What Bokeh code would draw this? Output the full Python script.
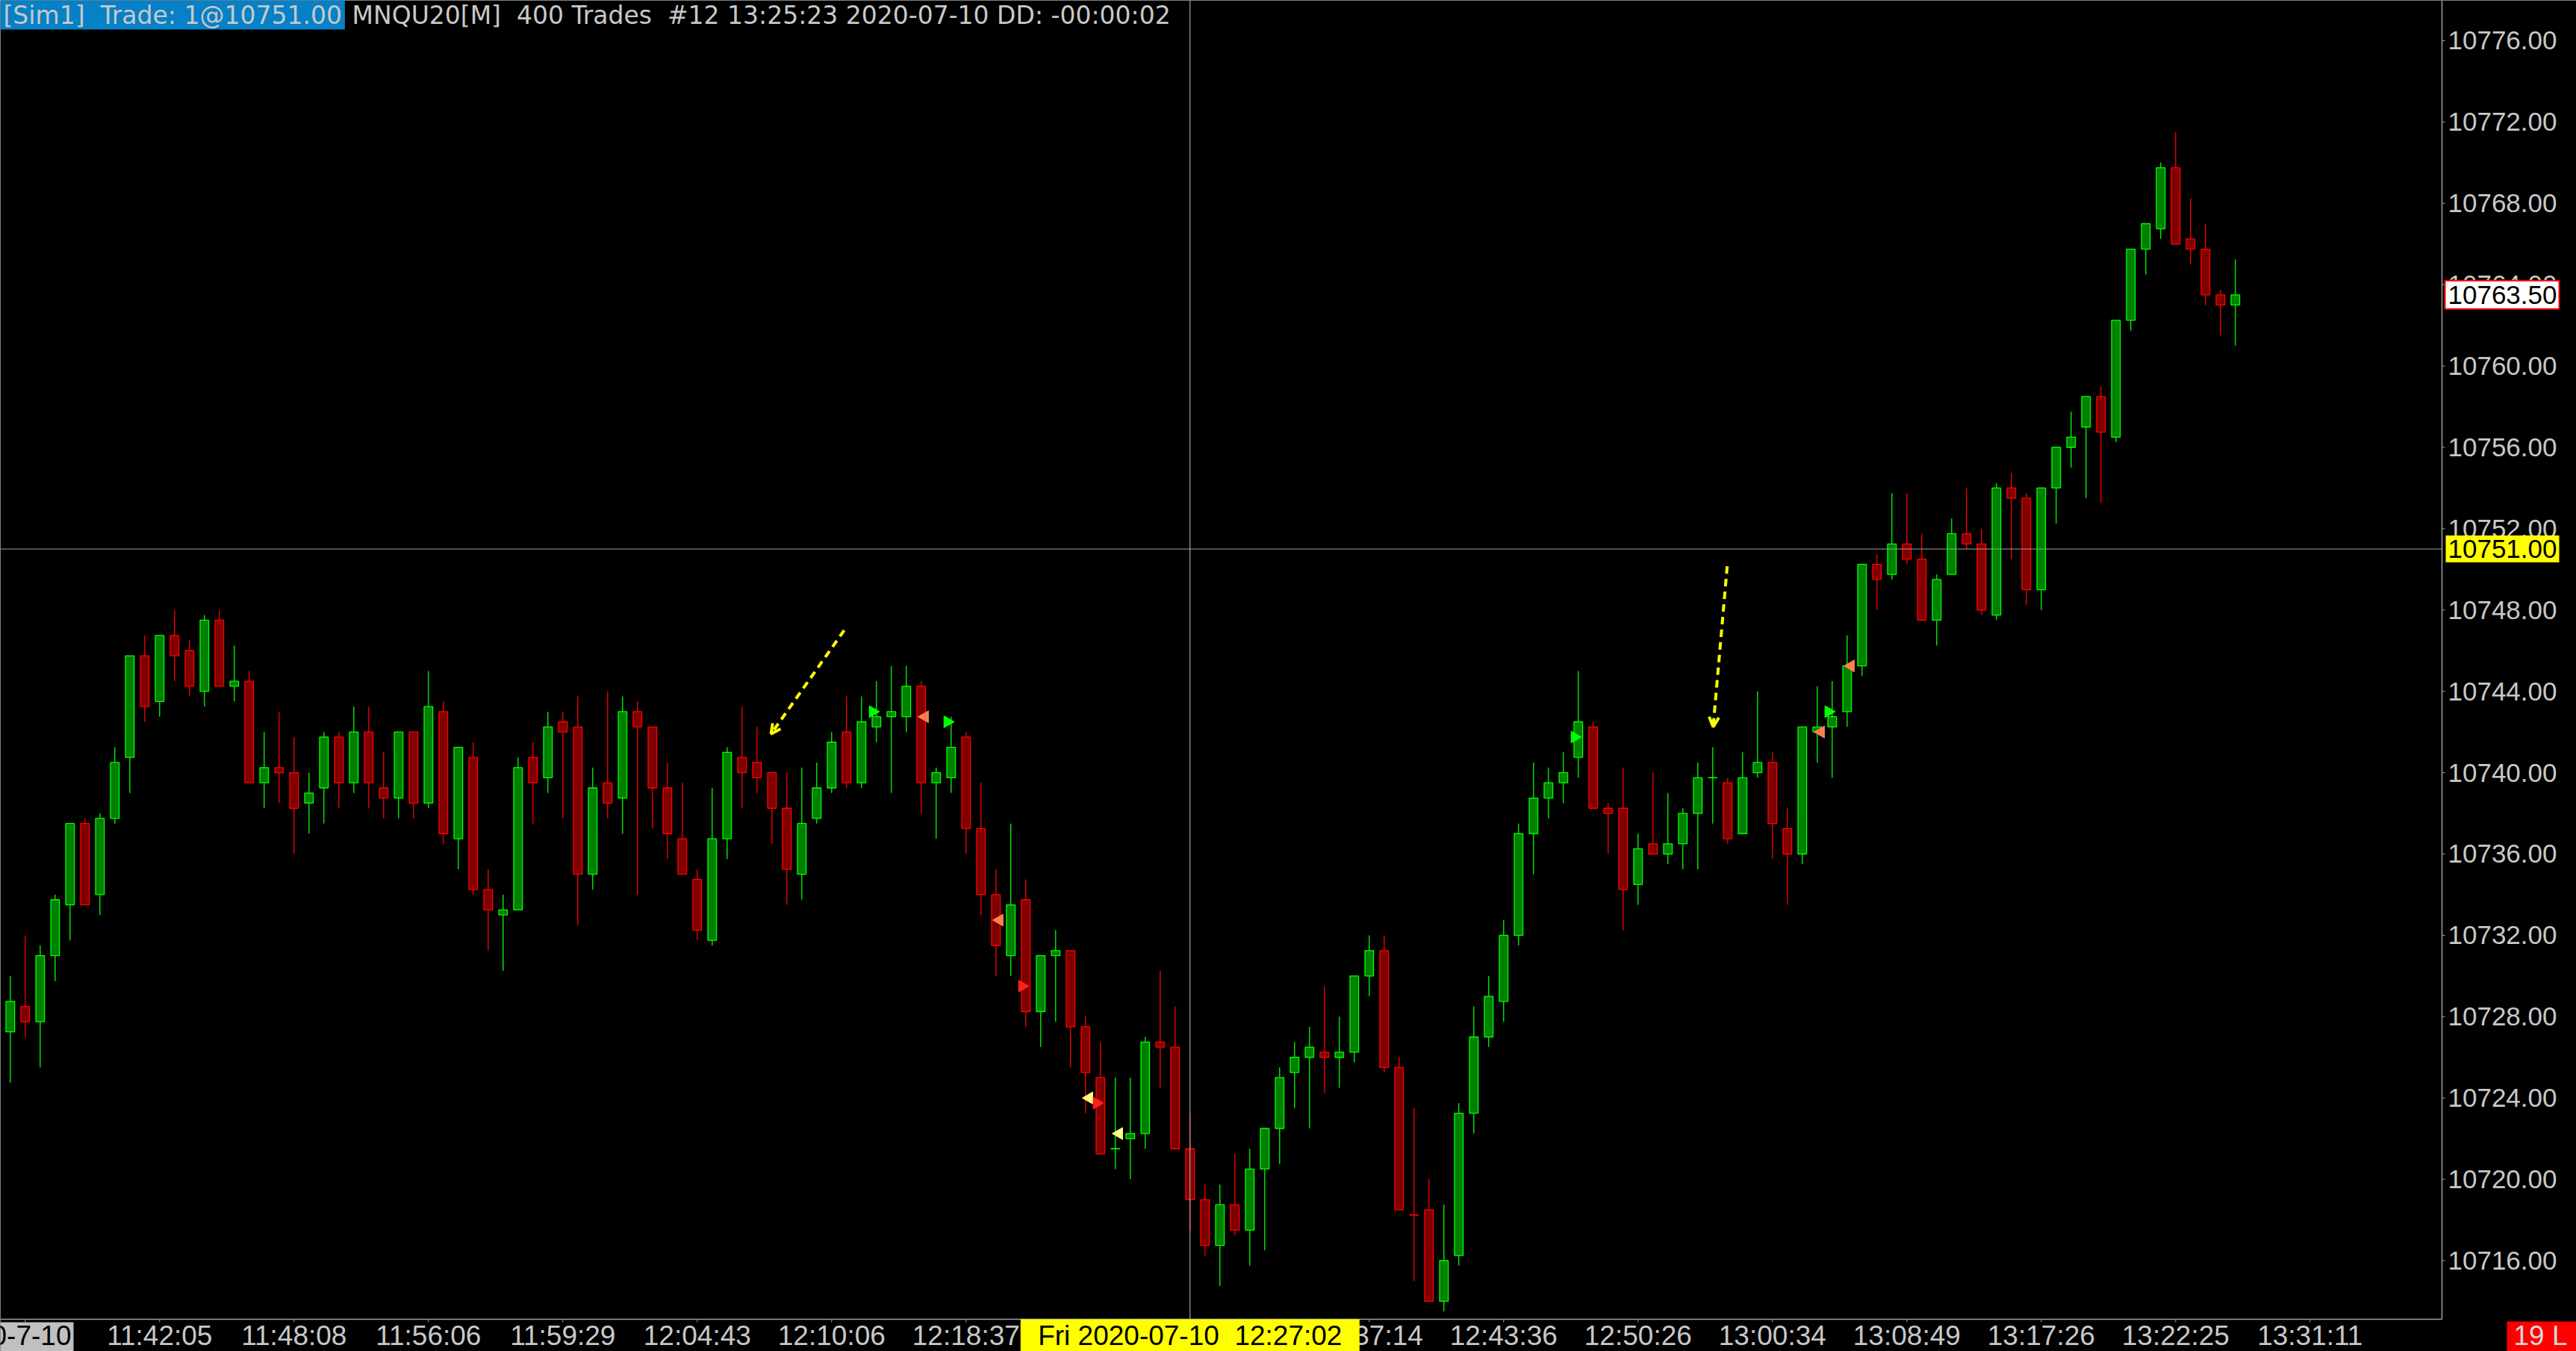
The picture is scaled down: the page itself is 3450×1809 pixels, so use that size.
from bokeh.plotting import figure
from bokeh.models import ColumnDataSource, Label, Arrow, OpenHead, Range1d
from bokeh.embed import file_html
from bokeh.resources import INLINE
from bokeh.core.properties import value

# ---------------- data (MNQU20, 400-trade bars, 2020-07-10) ----------------
opens = [10727.25, 10728.5, 10727.75, 10731, 10733.5, 10737.5, 10734, 10737.75, 10740.75, 10745.75,
         10743.5, 10746.75, 10746, 10744, 10747.5, 10744.25, 10744.5, 10739.5, 10740.25, 10740,
         10738.5, 10739.25, 10741.75, 10739.5, 10742, 10739.25, 10738.75, 10742, 10738.5, 10743,
         10736.75, 10740.75, 10734.25, 10733, 10733.25, 10740.75, 10739.75, 10742.5, 10742.25, 10735,
         10739.5, 10738.75, 10743, 10742.25, 10739.25, 10736.75, 10734.75, 10731.75, 10736.75, 10740.75,
         10740.5, 10740, 10738.25, 10735, 10737.75, 10739.25, 10742, 10739.5, 10742.25, 10742.75,
         10742.75, 10744.25, 10739.5, 10739.75, 10741.75, 10737.25, 10734, 10731, 10733.75, 10728.25,
         10731, 10731.25, 10727.5, 10725, 10721.5, 10722, 10722.25, 10726.75, 10726.5, 10721.5,
         10719, 10716.75, 10718.75, 10717.5, 10720.5, 10722.5, 10725.25, 10726, 10726.25, 10726,
         10726.25, 10730, 10731.25, 10725.5, 10718.25, 10718.5, 10714, 10716.25, 10723.25, 10727,
         10728.75, 10732, 10737, 10738.75, 10739.5, 10740.75, 10742.25, 10738.25, 10738.25, 10734.5,
         10736.5, 10736, 10736.5, 10738, 10739.75, 10739.5, 10737, 10740, 10740.5, 10737.25,
         10736, 10742, 10742.25, 10743, 10745.25, 10750.25, 10749.75, 10751.25, 10750.5, 10747.5,
         10749.75, 10751.75, 10751.25, 10747.75, 10754, 10753.5, 10749, 10754, 10756, 10757,
         10758.5, 10756.5, 10762.25, 10765.75, 10766.75, 10769.75, 10766.25, 10765.75, 10763.5, 10763]
highs = [10730, 10732, 10731.5, 10734, 10737.5, 10737.75, 10738, 10741.25, 10745.75, 10746.75,
         10746.75, 10748, 10746.5, 10747.75, 10748, 10746.25, 10745, 10742, 10743, 10741.75,
         10740, 10742, 10742, 10743.25, 10743.25, 10741, 10742, 10742, 10745, 10743.5,
         10741.25, 10741.5, 10735.25, 10734, 10740.75, 10741.5, 10743, 10743, 10743.75, 10740.25,
         10744, 10743.75, 10743.5, 10742.25, 10740.5, 10739.5, 10735.25, 10739.25, 10741.25, 10743.25,
         10742.25, 10740, 10740, 10740.25, 10740.5, 10742, 10743.75, 10743.75, 10744.5, 10745.25,
         10745.25, 10744.5, 10740.25, 10742.75, 10742, 10739.5, 10735.25, 10737.5, 10734.75, 10731,
         10732.25, 10731.25, 10728, 10726.75, 10725, 10725, 10727, 10730.25, 10728.5, 10723.25,
         10719.75, 10719.75, 10721.25, 10721.5, 10722.5, 10725.5, 10726.75, 10727.5, 10729.5, 10728,
         10730, 10732, 10732, 10726, 10723.5, 10720, 10718.75, 10723.75, 10728.5, 10730,
         10732.75, 10737.5, 10740.5, 10740.25, 10741, 10745, 10742.5, 10738.5, 10740.25, 10737,
         10740, 10739, 10738.25, 10740.5, 10741.25, 10739.75, 10741, 10744, 10741, 10738.25,
         10742.25, 10744.25, 10744.5, 10746.75, 10750.25, 10750.75, 10753.75, 10753.75, 10751.75, 10749.75,
         10752.5, 10754, 10752, 10754.25, 10754.75, 10753.75, 10754, 10756, 10757.75, 10758.5,
         10759, 10762.25, 10765.75, 10767, 10770, 10771.5, 10768.25, 10767, 10763.75, 10765.25]
lows = [10724.75, 10727, 10725.5, 10729.75, 10731.75, 10733.5, 10733, 10737.5, 10739, 10742.5,
        10742.75, 10744.5, 10743.75, 10743.25, 10744.25, 10743.5, 10739.5, 10738.25, 10738.5, 10736,
        10737, 10737.5, 10738.25, 10739, 10738.25, 10737.75, 10737.75, 10737.75, 10738.25, 10736.5,
        10735.25, 10734, 10731.25, 10730.25, 10733.25, 10737.5, 10739, 10737.75, 10732.5, 10734.25,
        10737.75, 10737, 10734, 10737.25, 10735.75, 10735, 10731.75, 10731.5, 10735.75, 10738.25,
        10739, 10736.5, 10733.5, 10733.75, 10737.5, 10739, 10739.25, 10739.25, 10741.5, 10739,
        10742, 10738, 10736.75, 10739, 10736, 10733, 10730, 10730, 10727.5, 10726.5,
        10727.75, 10725.5, 10723.25, 10721.25, 10720.5, 10720, 10721.5, 10724.5, 10721.5, 10717.5,
        10716.25, 10714.75, 10717.25, 10715.75, 10716.5, 10720.75, 10723.5, 10722.5, 10724.25, 10724.5,
        10725.75, 10729, 10725.25, 10718.5, 10715, 10714, 10713.5, 10715.75, 10722.25, 10726.5,
        10727.75, 10731.5, 10735, 10737.75, 10738.5, 10739.75, 10738.25, 10736, 10732.25, 10733.5,
        10736, 10735.5, 10735.25, 10735.25, 10737.5, 10736.5, 10737, 10739.75, 10735.75, 10733.5,
        10735.5, 10740.5, 10739.75, 10742.25, 10744.75, 10748, 10749.5, 10750.25, 10747.5, 10746.25,
        10749.75, 10751, 10747.75, 10747.5, 10750.5, 10748.25, 10748, 10752.25, 10755, 10753.5,
        10753.25, 10756.25, 10761.75, 10764.5, 10766.25, 10766, 10765, 10763, 10761.5, 10761]
closes = [10728.75, 10727.75, 10731, 10733.75, 10737.5, 10733.5, 10737.75, 10740.5, 10745.75, 10743.25,
          10746.75, 10745.75, 10744.25, 10747.5, 10744.25, 10744.5, 10739.5, 10740.25, 10740, 10738.25,
          10739, 10741.75, 10739.5, 10742, 10739.5, 10738.75, 10742, 10738.5, 10743.25, 10737,
          10741.25, 10734.25, 10733.25, 10733.25, 10740.25, 10739.5, 10742.25, 10742, 10735, 10739.25,
          10738.5, 10743, 10742.25, 10739.25, 10737, 10735, 10732.25, 10736.75, 10741, 10740,
          10739.75, 10738.25, 10735.25, 10737.5, 10739.25, 10741.5, 10739.5, 10742.5, 10742.75, 10743,
          10744.25, 10739.5, 10740, 10741.25, 10737.25, 10734, 10731.5, 10733.5, 10728.25, 10731,
          10731.25, 10727.5, 10725.25, 10721.25, 10721.5, 10722.25, 10726.75, 10726.5, 10721.5, 10719,
          10716.75, 10718.75, 10717.5, 10720.5, 10722.5, 10725, 10726, 10726.5, 10726, 10726.25,
          10730, 10731.25, 10725.5, 10718.5, 10718.25, 10714, 10716, 10723.25, 10727, 10729,
          10732, 10737, 10738.75, 10739.5, 10740, 10742.5, 10738.25, 10738, 10734.25, 10736.25,
          10736, 10736.5, 10738, 10739.75, 10739.75, 10736.75, 10739.75, 10740.5, 10737.5, 10736,
          10742.25, 10742.25, 10742.75, 10745.25, 10750.25, 10749.5, 10751.25, 10750.5, 10747.5, 10749.5,
          10751.75, 10751.25, 10748, 10754, 10753.5, 10749, 10754, 10756, 10756.5, 10758.5,
          10756.75, 10762.25, 10765.75, 10767, 10769.75, 10766, 10765.75, 10763.5, 10763, 10763.5]

price_ticks = [10716, 10720, 10724, 10728, 10732, 10736, 10740, 10744, 10748, 10752,
               10756, 10760, 10764, 10768, 10772, 10776]
time_tick_bars = [1, 10, 19, 28, 37, 46, 55, 64, 73, 82, 91, 100, 109, 118, 127, 136, 145, 154]
time_label_bars = [10, 19, 28, 37, 46, 55, 64, 91, 100, 109, 118, 127, 136, 145, 154]
time_labels = ["11:42:05", "11:48:08", "11:56:06", "11:59:29", "12:04:43", "12:10:06", "12:18:37",
               "12:37:14", "12:43:36", "12:50:26", "13:00:34", "13:08:49", "13:17:26", "13:22:25",
               "13:31:11"]
date_label = "2020-7-10"

# execution markers: bar index, price, kind
marker_bars = [58, 61, 63, 66, 68, 72, 73, 74, 105, 121, 122, 123]
marker_prices = [10743, 10742.75, 10742.5, 10732.75, 10729.5, 10724, 10723.75, 10722.25,
                 10741.75, 10742, 10743, 10745.25]
marker_kinds = ["buy", "sell", "buy", "sell", "short", "cover", "short", "cover",
                "buy", "sell", "buy", "sell"]

# hand-drawn dashed arrows (bar index / price)
arrow_x_start = [55.84, 114.97]
arrow_y_start = [10747.0, 10750.15]
arrow_x_end = [50.94, 114.03]
arrow_y_end = [10741.9, 10742.25]

NB = "\u00a0"
crosshair_bar = 79
crosshair_price = 10751.0
crosshair_time = "Fri 2020-07-10 " + NB + "12:27:02"
last_price = 10763.50
header_account = "[Sim1] " + NB + "Trade: 1@10751.00"
header_info = ("MNQU20[M] " + NB + "400 Trades " + NB + "#12 13:25:23 2020-07-10 DD: -00:00:02")
bars_left = "19 L"

# ---------------- geometry (canvas px -> data) ----------------
W, H = 3450, 1809
PX_BAR = 20.0
PX_PT = 27.225
X0 = -0.665
X1 = X0 + W / PX_BAR
Y_TOP = 10777.983
Y_BOT = Y_TOP - H / PX_PT


def xd(px):
    return X0 + px / PX_BAR


def yd(px):
    return Y_TOP - px / PX_PT


def ypx(v):
    return (Y_TOP - v) * PX_PT


AX_X = xd(3270)      # price-axis line
AX_Y = yd(1766)      # time-axis line
AXIS_COLOR = "#a0a0a0"
LABEL_COLOR = "#c8c8c8"
SCALE_FONT = value("Liberation Sans")
TIME_ROW_Y = yd(1787.5)

UP_FILL, UP_LINE = "#008000", "#00ff00"
DN_FILL, DN_LINE = "#800000", "#ff0000"

n = len(opens)
xs = list(range(n))
up = []
for i in range(n):
    if closes[i] > opens[i]:
        up.append(True)
    elif closes[i] < opens[i]:
        up.append(False)
    else:
        up.append(i == 0 or closes[i] >= closes[i - 1])

src = ColumnDataSource(dict(
    x=xs, o=opens, h=highs, l=lows, c=closes,
    top=[max(a, b) for a, b in zip(opens, closes)],
    bottom=[min(a, b) for a, b in zip(opens, closes)],
    fill=[UP_FILL if u else DN_FILL for u in up],
    line=[UP_LINE if u else DN_LINE for u in up],
))

p = figure(width=W, height=H, output_backend="svg", toolbar_location=None,
           x_range=Range1d(X0, X1), y_range=Range1d(Y_BOT, Y_TOP),
           x_axis_location=None, y_axis_location=None, min_border=0,
           background_fill_color="black", border_fill_color="black",
           outline_line_color=None)
p.grid.visible = False

# ---- price scale (right) ----
p.segment(x0=[AX_X], y0=[AX_Y], x1=[AX_X], y1=[Y_TOP], line_color=AXIS_COLOR, line_width=1.5)
p.segment(x0=[AX_X] * len(price_ticks), y0=price_ticks,
          x1=[AX_X + 4 / PX_BAR] * len(price_ticks), y1=price_ticks,
          line_color=AXIS_COLOR, line_width=1)
p.text(x=[xd(3278)] * len(price_ticks), y=price_ticks,
       text=["%.2f" % t for t in price_ticks],
       text_font=SCALE_FONT, text_font_size=value("35px"),
       text_color=LABEL_COLOR, text_align="left", text_baseline="middle")

# ---- time scale (bottom) ----
p.segment(x0=[X0], y0=[AX_Y], x1=[AX_X], y1=[AX_Y], line_color=AXIS_COLOR, line_width=1.5)
p.segment(x0=time_tick_bars, y0=[AX_Y] * len(time_tick_bars),
          x1=time_tick_bars, y1=[AX_Y - 4 / PX_PT] * len(time_tick_bars),
          line_color=AXIS_COLOR, line_width=1)
p.text(x=time_label_bars, y=[TIME_ROW_Y] * len(time_label_bars), text=time_labels,
       text_font=SCALE_FONT, text_font_size=value("37px"),
       text_color=LABEL_COLOR, text_align="center", text_baseline="middle")

# ---- candles ----
p.segment(x0="x", y0="l", x1="x", y1="h", line_color="line", line_width=1.3, source=src)
p.vbar(x="x", width=0.58, top="top", bottom="bottom", fill_color="fill",
       line_color="line", line_width=1.3, source=src)
doji = [i for i in range(n) if opens[i] == closes[i]]
p.segment(x0=[i - 0.31 for i in doji], y0=[opens[i] for i in doji],
          x1=[i + 0.31 for i in doji], y1=[opens[i] for i in doji],
          line_color=[UP_LINE if up[i] else DN_LINE for i in doji], line_width=1.5)

# ---- execution markers ----
kind_style = {"buy": ("#00ff00", -1.5708, -0.25), "sell": ("#ff7f50", 1.5708, 0.25),
              "short": ("#ff2020", -1.5708, -0.25), "cover": ("#ffff80", 1.5708, 0.25)}
mk = ColumnDataSource(dict(
    x=[b + kind_style[k][2] for b, k in zip(marker_bars, marker_kinds)],
    y=marker_prices,
    color=[kind_style[k][0] for k in marker_kinds],
    angle=[kind_style[k][1] for k in marker_kinds],
))
p.scatter(x="x", y="y", marker="triangle", size=16, angle="angle",
          fill_color="color", line_color="color", source=mk)

# ---- crosshair ----
p.segment(x0=[X0], y0=[crosshair_price], x1=[AX_X], y1=[crosshair_price],
          line_color="#a0a0a0", line_width=1)
p.segment(x0=[crosshair_bar], y0=[AX_Y], x1=[crosshair_bar], y1=[Y_TOP],
          line_color="#c0c0c0", line_width=1)

# ---- flags on the scales (box + text) ----
# last price (white, red frame)
p.quad(left=[xd(3274)], right=[xd(3427)], top=[yd(ypx(last_price) - 19)],
       bottom=[yd(ypx(last_price) + 19)], fill_color="white", line_color="#ff0000", line_width=2)
p.text(x=[xd(3278)], y=[last_price], text=["%.2f" % last_price], text_font=SCALE_FONT,
       text_font_size=value("35px"), text_color="black", text_align="left", text_baseline="middle")
# crosshair price (yellow)
p.quad(left=[xd(3275)], right=[xd(3427)], top=[yd(ypx(crosshair_price) - 18)],
       bottom=[yd(ypx(crosshair_price) + 18)], fill_color="#ffff00", line_color=None)
p.text(x=[xd(3278)], y=[crosshair_price], text=["%.2f" % crosshair_price], text_font=SCALE_FONT,
       text_font_size=value("35px"), text_color="black", text_align="left", text_baseline="middle")
# crosshair time (yellow)
p.quad(left=[crosshair_bar - 227 / PX_BAR], right=[crosshair_bar + 227 / PX_BAR],
       top=[AX_Y], bottom=[Y_BOT], fill_color="#ffff00", line_color=None)
p.text(x=[crosshair_bar], y=[TIME_ROW_Y], text=[crosshair_time], text_font=SCALE_FONT,
       text_font_size=value("37px"), text_color="black", text_align="center", text_baseline="middle")
# first-bar date (grey)
p.quad(left=[X0], right=[xd(98)], top=[yd(1770)], bottom=[Y_BOT],
       fill_color="#c0c0c0", line_color=None)
p.text(x=[xd(95)], y=[TIME_ROW_Y], text=[date_label], text_font=SCALE_FONT,
       text_font_size=value("37px"), text_color="black", text_align="right", text_baseline="middle")
# bars remaining (red)
p.quad(left=[xd(3357)], right=[xd(W)], top=[yd(1769)], bottom=[Y_BOT],
       fill_color="#ff0000", line_color=None)
p.text(x=[xd(3366)], y=[TIME_ROW_Y], text=[bars_left], text_font=SCALE_FONT,
       text_font_size=value("37px"), text_color="#d8d8d8", text_align="left", text_baseline="middle")

# ---- dashed arrows ----
for xs0, ys0, xe, ye in zip(arrow_x_start, arrow_y_start, arrow_x_end, arrow_y_end):
    p.add_layout(Arrow(x_start=xs0, y_start=ys0, x_end=xe, y_end=ye,
                       line_color="#ffff00", line_width=4, line_dash="10 7",
                       end=OpenHead(size=13, line_color="#ffff00", line_width=4)))

# ---- header ----
p.add_layout(Label(x=xd(0), y=yd(0), text=header_account, text_font="DejaVu Sans",
                   text_font_size="33px", text_color=LABEL_COLOR, text_align="left",
                   text_baseline="top", background_fill_color="#0680c6", padding=(4, 0)))
p.add_layout(Label(x=xd(471), y=yd(0), text=header_info, text_font="DejaVu Sans",
                   text_font_size="33px", text_color=LABEL_COLOR, text_align="left",
                   text_baseline="top"))

open("out.html", "w").write(file_html(p, INLINE))
